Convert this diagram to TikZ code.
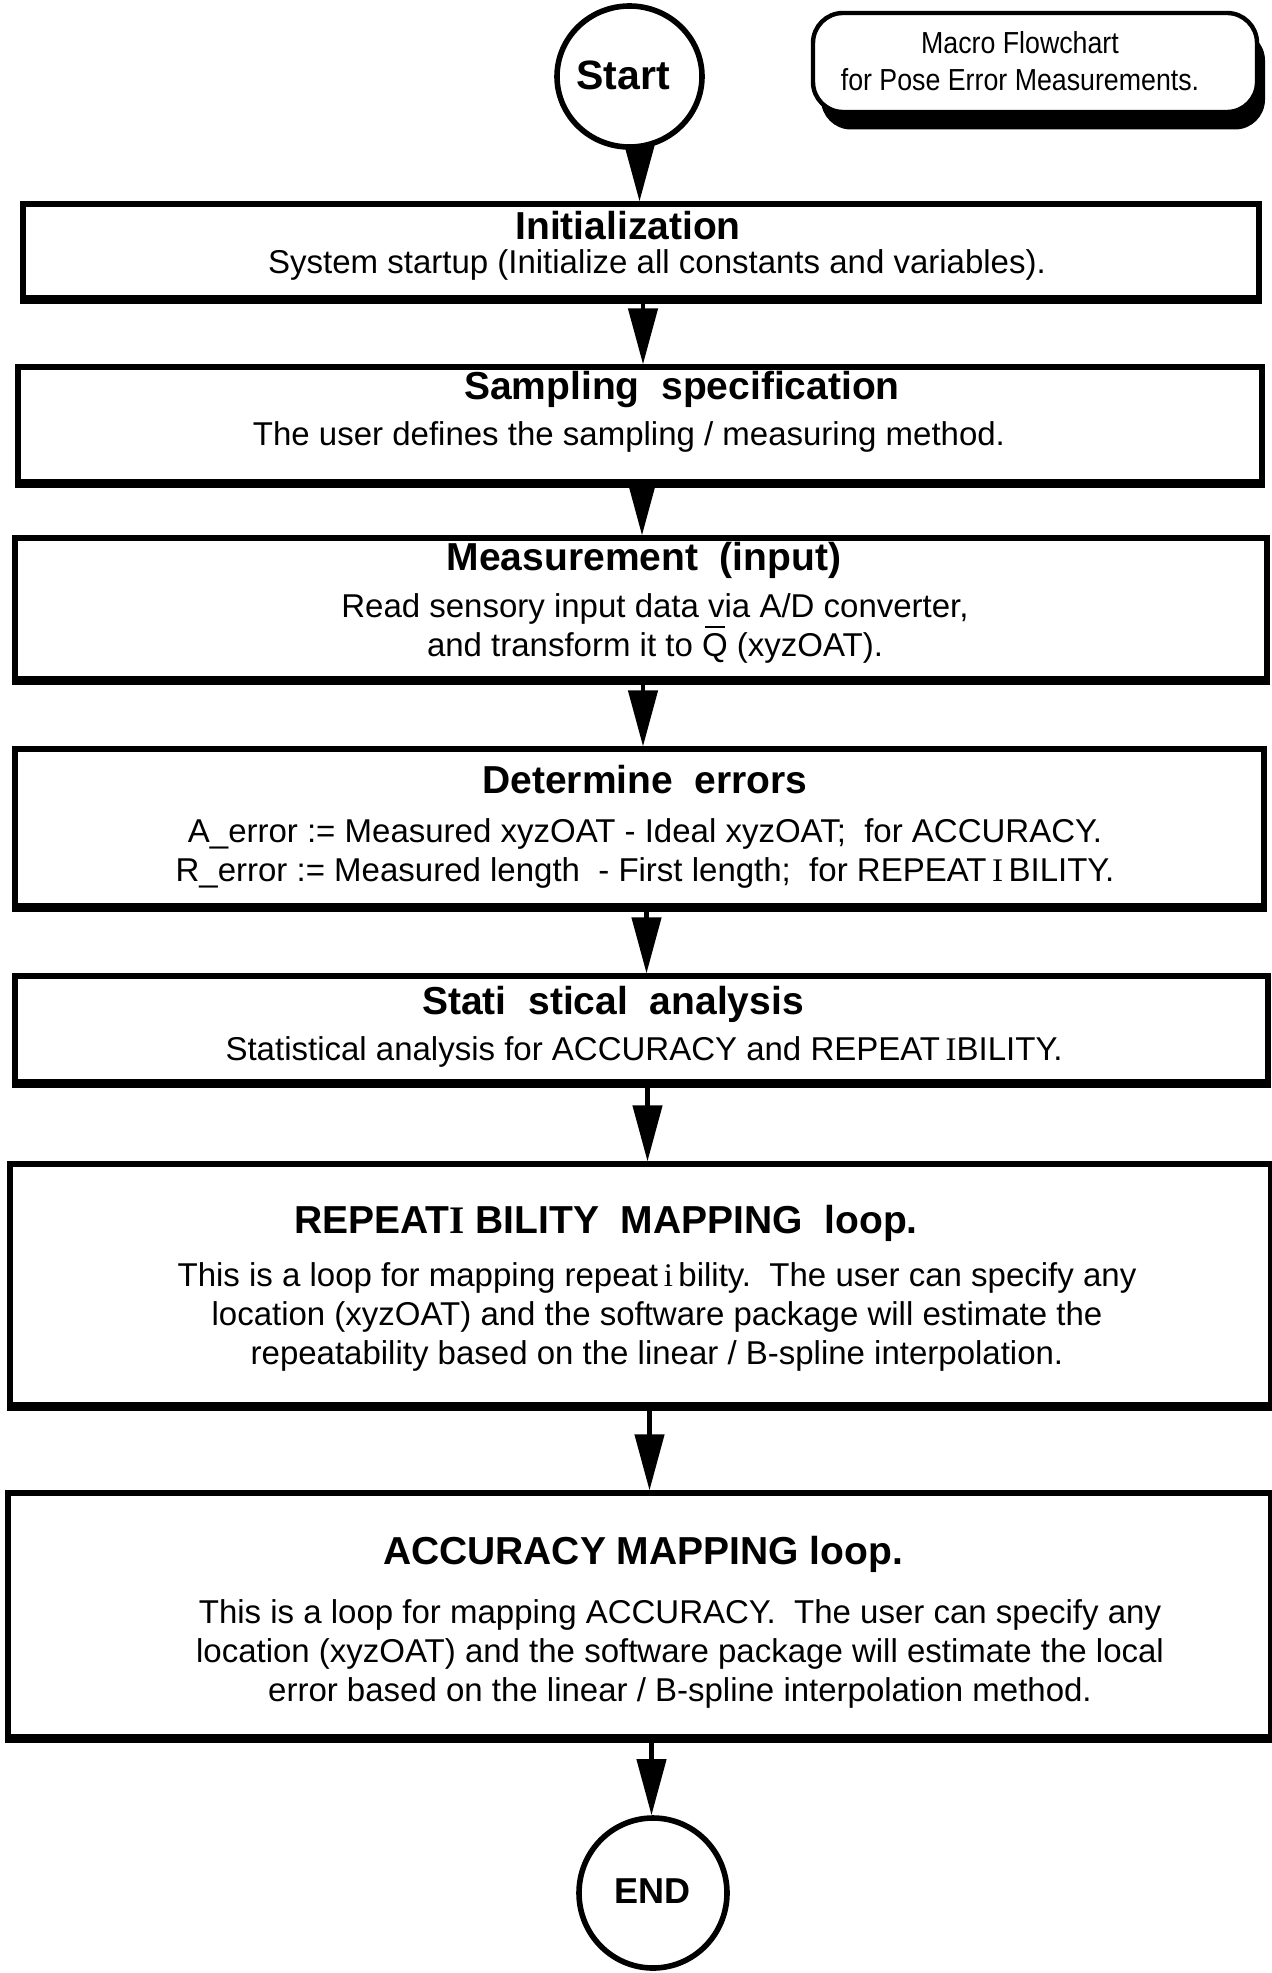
\documentclass[tikz,border=0pt]{standalone}
\usepackage{fontspec}
\setmainfont{Liberation Sans}
\newfontfamily\serifface{Liberation Serif}
\newfontfamily\notefont[FakeStretch=0.88]{Liberation Sans}
\usetikzlibrary{shapes.geometric,arrows.meta}

% Q with an overbar
\newcommand\qbar{\leavevmode\makebox[0pt][l]{\hspace{0.09em}\raisebox{0.86em}{\rule{0.6em}{0.08em}}}Q}

\begin{document}
\begin{tikzpicture}[x=0.5pt,y=-0.5pt,
  flowbox/.style={draw, line width=2.6pt, rectangle, inner sep=0pt},
  terminal/.style={draw, ellipse, line width=2.8pt, inner sep=0pt},
  ttl/.style={font=\bfseries\fontsize{19.5}{22}\selectfont, inner sep=0pt},
  bodytxt/.style={font=\fontsize{16.5}{19.5}\selectfont, align=center, inner sep=0pt},
  notetxt/.style={font=\notefont\fontsize{15.2}{18.75}\selectfont, align=center, inner sep=0pt},
  flow/.style={line width=2.2pt, -{Triangle[length=28pt,width=14.5pt]}},
  heavyedge/.style={line width=3.8pt},
]
\useasboundingbox (0,0) rectangle (1272,1973);

% terminals
\node[terminal, minimum width=72.5pt, minimum height=70.5pt] (start) at (629.5,76.5) {};
\node[font=\bfseries\fontsize{20.5}{24}\selectfont, inner sep=0pt] (starttxt) at (623,75) {Start};

\node[terminal, minimum width=74pt, minimum height=75pt] (end) at (653,1893) {};
\node[font=\bfseries\fontsize{18}{22}\selectfont, inner sep=0pt] (endtxt) at (652,1891) {END};

% title note with drop shadow
\node[fill=black, rounded corners=15pt, minimum width=222pt, minimum height=49.5pt, inner sep=0pt] (noteshadow) at (1043,80) {};
\node[draw, fill=white, line width=2.2pt, rounded corners=15pt, minimum width=222pt, minimum height=49.5pt, inner sep=0pt] (note) at (1035,62.5) {};
\node[notetxt] (notetext) at (1020,61) {Macro Flowchart\\for Pose Error Measurements.};

% process boxes
\node[flowbox, minimum width=618pt,   minimum height=47pt]    (init) at (641,251) {};
\node[flowbox, minimum width=622pt,   minimum height=57.5pt]  (samp) at (640,424.5) {};
\node[flowbox, minimum width=626pt,   minimum height=70.5pt]  (meas) at (641,608.5) {};
\node[flowbox, minimum width=624.5pt, minimum height=78.5pt]  (det)  at (639.5,827.5) {};
\node[flowbox, minimum width=626.5pt, minimum height=53pt]    (stat) at (641.5,1029) {};
\node[flowbox, minimum width=630.5pt, minimum height=120.5pt] (rep)  at (640.5,1284.5) {};
\node[flowbox, minimum width=631.5pt, minimum height=122pt]   (acc)  at (639.5,1615) {};

% heavier lower edges
\foreach \b in {init,samp,meas,det,stat,rep,acc}
  \draw[heavyedge] (\b.south west) -- (\b.south east);

% box texts
\node[ttl] (initT) at (628,226) {Initialization};
\node[bodytxt] (initB) at (657,265) {System startup (Initialize all constants and variables).};

\node[ttl] (sampT) at (682,390) {Sampling~~specification};
\node[bodytxt] (sampB) at (629,437) {The user defines the sampling / measuring method.};

\node[ttl] (measT) at (644,560) {Measurement~~(input)};
\node[bodytxt] (measB) at (655,628.5) {Read sensory input data via A/D converter,\\and transform it to \qbar{} (xyzOAT).};

\node[ttl] (detT) at (645,780) {Determine~~errors};
\node[bodytxt] (detB) at (645,853.5) {A\_error := Measured xyzOAT - Ideal xyzOAT;~~for ACCURACY.\\R\_error := Measured length~~- First length;~~for REPEAT{\serifface\,I\,}BILITY.};

\node[ttl] (statT) at (613,1004) {Stati~~stical~~analysis};
\node[bodytxt] (statB) at (644,1052) {Statistical analysis for ACCURACY and REPEAT\,{\serifface I}BILITY.};

\node[ttl] (repT) at (606,1223) {REPEAT{\serifface\bfseries I} BILITY~~MAPPING~~loop.};
\node[bodytxt] (repB) at (657,1317) {This is a loop for mapping repeat\,{\serifface i}\,bility.~~The user can specify any\\location (xyzOAT) and the software package will estimate the\\repeatability based on the linear / B-spline interpolation.};

\node[ttl] (accT) at (643,1554) {ACCURACY~MAPPING~loop.};
\node[bodytxt] (accB) at (680,1654) {This is a loop for mapping ACCURACY.~~The user can specify any\\location (xyzOAT) and the software package will estimate the local\\error based on the linear / B-spline interpolation method.};

% connectors
\draw[flow] ([xshift=5pt]start.south) -- ([xshift=5pt]start.south |- init.north);
\draw[flow] ([xshift=1pt]init.south) -- ([xshift=1pt]init.south |- samp.north);
\draw[flow] ([xshift=1pt]samp.south) -- ([xshift=1pt]samp.south |- meas.north);
\draw[flow] ([xshift=1pt]meas.south) -- ([xshift=1pt]meas.south |- det.north);
\draw[flow] ([xshift=3.5pt]det.south) -- ([xshift=3.5pt]det.south |- stat.north);
\draw[flow] ([xshift=3pt]stat.south) -- ([xshift=3pt]stat.south |- rep.north);
\draw[flow] ([xshift=4.5pt]rep.south) -- ([xshift=4.5pt]rep.south |- acc.north);
\draw[flow] ([xshift=6pt]acc.south) -- ([xshift=6pt]acc.south |- end.north);
\end{tikzpicture}
\end{document}
